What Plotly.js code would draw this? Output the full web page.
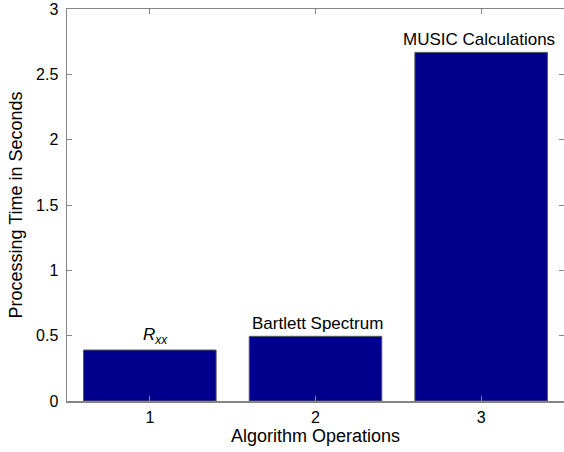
<!DOCTYPE html>
<html>
<head>
<meta charset="utf-8">
<script src="https://cdn.plot.ly/plotly-3.0.1.min.js"></script>
<style>html,body{margin:0;padding:0;background:#fff;overflow:hidden}</style>
</head>
<body>
<div id="chart" style="width:564px;height:452px"></div>
<script>
const operations = [1, 2, 3];
const processingTimes = [0.39, 0.495, 2.668];
const barLabels = ["<i>R<sub>xx</sub></i>", "Bartlett Spectrum", "MUSIC Calculations"];
const labelShifts = [6, 2, -2];
const yTicks = [0, 0.5, 1, 1.5, 2, 2.5, 3];
const yTickText = ["0", "0.5", "1", "1.5", "2", "2.5", "3"];
const xTicks = [1, 2, 3];

const font = "Liberation Sans, Arial, Helvetica, sans-serif";
const axisColor = "#858585";

const trace = {
  type: "bar",
  x: operations,
  y: processingTimes,
  width: 0.8,
  marker: {color: "#00008c", line: {color: "#555555", width: 1}},
  hoverinfo: "skip"
};

const annotations = operations.map((op, i) => ({
  x: op, y: processingTimes[i], xref: "x", yref: "y",
  text: barLabels[i], showarrow: false,
  xanchor: "center", yanchor: "bottom",
  xshift: labelShifts[i], yshift: 1,
  font: {family: font, size: 17, color: "#000"}
}));

const layout = {
  width: 564, height: 452,
  margin: {l: 67, r: 0, t: 9, b: 51},
  paper_bgcolor: "#fff", plot_bgcolor: "#fff",
  showlegend: false,
  xaxis: {
    range: [0.5, 3.5], tickvals: xTicks, ticktext: xTicks.map(String),
    ticks: "inside", ticklen: 5, tickcolor: axisColor, tickwidth: 1,
    showline: true, linecolor: axisColor, linewidth: 1.5, mirror: "ticks",
    showgrid: false, zeroline: false,
    tickfont: {family: font, size: 16, color: "#000"},
    ticklabelstandoff: 1,
    title: {text: "Algorithm Operations", font: {family: font, size: 18, color: "#000"}, standoff: 3}
  },
  yaxis: {
    range: [0, 3], tickvals: yTicks, ticktext: yTickText,
    ticks: "inside", ticklen: 5, tickcolor: axisColor, tickwidth: 1,
    showline: true, linecolor: axisColor, linewidth: 1.5, mirror: "ticks",
    showgrid: false, zeroline: false,
    tickfont: {family: font, size: 16, color: "#000"},
    ticklabelstandoff: 4,
    title: {text: "Processing Time in Seconds", font: {family: font, size: 18, color: "#000"}, standoff: 8}
  },
  annotations: annotations
};

Plotly.newPlot("chart", [trace], layout, {staticPlot: true, displayModeBar: false});
</script>
</body>
</html>
